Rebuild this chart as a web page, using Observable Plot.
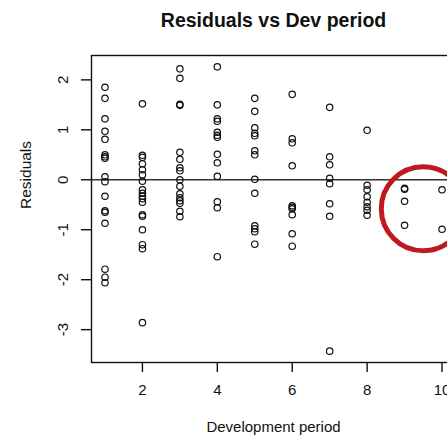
<!DOCTYPE html>
<html>
<head>
<meta charset="utf-8">
<script src="https://cdn.jsdelivr.net/npm/d3@7"></script>
<script src="https://cdn.jsdelivr.net/npm/@observablehq/plot@0.6"></script>
<style>
  html, body { margin: 0; padding: 0; background: #fff; overflow: hidden; }
  #chart svg { display: block; max-width: none !important; height: 435px !important; }
</style>
</head>
<body>
<div id="chart"></div>
<script>
// Residuals of the fitted model, grouped by development period
const devPeriods = [1, 2, 3, 4, 5, 6, 7, 8, 9, 10];
const residualsByPeriod = [
  [1.85, 1.63, 1.22, 0.97, 0.81, 0.5, 0.46, 0.43, 0.06, -0.04, -0.33, -0.62, -0.65, -0.87, -1.79, -1.95, -2.06],
  [1.52, 0.49, 0.45, 0.32, 0.2, 0.1, -0.03, -0.2, -0.27, -0.33, -0.38, -0.45, -0.7, -0.73, -1.0, -1.3, -1.38, -2.86],
  [2.22, 2.03, 1.51, 1.49, 0.55, 0.41, 0.24, 0.18, 0.0, -0.13, -0.28, -0.36, -0.42, -0.47, -0.63, -0.74],
  [2.26, 1.5, 1.22, 1.17, 0.95, 0.89, 0.85, 0.51, 0.34, 0.07, -0.44, -0.56, -1.54],
  [1.63, 1.37, 1.04, 0.93, 0.88, 0.58, 0.5, 0.01, -0.27, -0.92, -0.98, -1.04, -1.29],
  [1.71, 0.82, 0.74, 0.28, -0.52, -0.55, -0.58, -0.7, -1.08, -1.33],
  [1.45, 0.46, 0.3, 0.03, -0.08, -0.48, -0.73, -3.43],
  [0.99, -0.11, -0.2, -0.34, -0.45, -0.54, -0.61, -0.71],
  [-0.17, -0.19, -0.43, -0.91],
  [-0.2, -0.99]
];
const xTicks = [2, 4, 6, 8, 10];
const yTicks = [-3, -2, -1, 0, 1, 2];
const highlightPeriods = [9, 10];

const titleText = "Residuals vs Dev period";
const xLabel = "Development period";
const yLabel = "Residuals";

// Long table: one row per residual
const rows = devPeriods.flatMap((p, i) => residualsByPeriod[i].map(r => ({period: p, residual: r})));

// Axis ranges padded by 4% on each side, base-graphics style
const pad = ([a, b]) => [a - 0.04 * (b - a), b + 0.04 * (b - a)];
const xDomain = pad(d3.extent(rows, d => d.period));
const yDomain = pad(d3.extent(rows, d => d.residual));

// Ring drawn around the late development periods
const hl = rows.filter(d => highlightPeriods.includes(d.period));
const ring = [{
  period: d3.mean(d3.extent(hl, d => d.period)),
  residual: d3.mean(d3.extent(hl, d => d.residual))
}];

const font = "'Liberation Sans', Arial, Helvetica, sans-serif";

const chart = Plot.plot({
  width: 470,
  height: 435,
  marginLeft: 91,
  marginRight: 15,
  marginTop: 55,
  marginBottom: 73,
  style: {fontFamily: font, fontSize: "15px", color: "#111", background: "#fff", maxWidth: "none"},
  x: {domain: xDomain},
  y: {domain: yDomain},
  marks: [
    Plot.ruleY([0], {stroke: "#333", strokeWidth: 1.4}),
    Plot.dot(rows, {x: "period", y: "residual", r: 3.2, stroke: "#111", strokeWidth: 1.2, fill: "none"}),
    Plot.dot(ring, {x: "period", y: "residual", r: 42, stroke: "#bf1a1f", strokeWidth: 5, fill: "none"}),
    Plot.frame({stroke: "#111", strokeWidth: 1.4}),
    Plot.axisX(xTicks, {
      tickSize: 10, tickPadding: 12, strokeWidth: 1.4, stroke: "#111",
      fontSize: 15, label: null, tickFormat: d => String(d)
    }),
    Plot.axisY(yTicks, {
      tickSize: 10, tickPadding: 14, tickRotate: -90, strokeWidth: 1.4, stroke: "#111",
      fontSize: 15, label: null, tickFormat: d => String(d)
    }),
    Plot.text([titleText], {
      frameAnchor: "top", lineAnchor: "bottom", dy: -29,
      fontSize: 19.5, fontWeight: "bold", fill: "#111"
    }),
    Plot.text([xLabel], {
      frameAnchor: "bottom", lineAnchor: "bottom", dy: 69,
      fontSize: 15, fill: "#111"
    }),
    Plot.text([yLabel], {
      frameAnchor: "left", lineAnchor: "bottom", rotate: -90, dx: -60.5,
      fontSize: 15.5, fill: "#111"
    })
  ]
});

document.getElementById("chart").appendChild(chart);
</script>
</body>
</html>
